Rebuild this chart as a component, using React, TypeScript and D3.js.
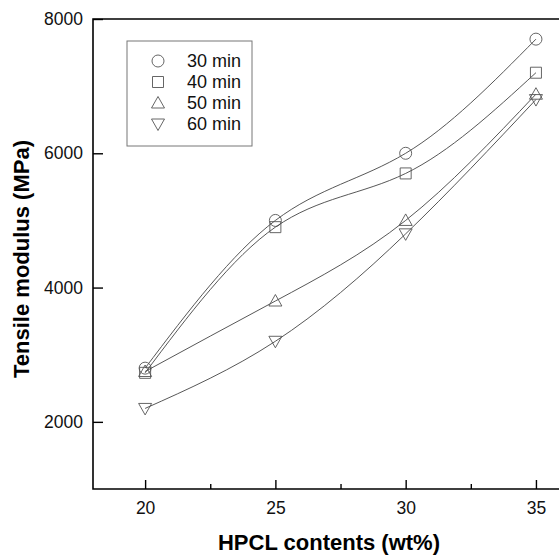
import * as d3 from 'd3';
import { useEffect, useRef } from 'react';

const contents = [20, 25, 30, 35];
const min30 = [2800, 5000, 6000, 7700];
const min40 = [2730, 4900, 5700, 7200];
const min50 = [2750, 3800, 5000, 6880];
const min60 = [2200, 3200, 4800, 6800];
const seriesNames = ['30 min', '40 min', '50 min', '60 min'];
const seriesShapes = ['circle', 'square', 'up', 'down'];
const xTicks = [20, 25, 30, 35];
const xMinorTicks = [22.5, 27.5, 32.5];
const yTicks = [2000, 4000, 6000, 8000];

const W = 559;
const H = 556;

const markerPath = (shape: string) => {
    if (shape === 'circle') return 'M6,0A6,6 0 1,1 -6,0A6,6 0 1,1 6,0Z';
    if (shape === 'square') return 'M-5.5,-5.5H5.5V5.5H-5.5Z';
    if (shape === 'up') return 'M0,-6.5L6.5,5L-6.5,5Z';
    return 'M0,6.5L6.5,-5L-6.5,-5Z';
};

const App = () => {
    const svgRef = useRef<SVGSVGElement>(null);

    useEffect(() => {
        const svg = d3.select(svgRef.current);
        const x = d3.scaleLinear().domain([18, 36]).range([93, 562]);
        const y = d3.scaleLinear().domain([1000, 8000]).range([489, 19]);
        const series = [min30, min40, min50, min60];

        // frame (right side runs off the picture)
        svg.append('path')
            .attr('d', `M${x(36) + 10},${y(8000)}H${x(18)}V${y(1000)}H${x(36) + 10}`)
            .attr('fill', 'none')
            .attr('stroke', '#000')
            .attr('stroke-width', 1.6);

        const xAxis = svg.append('g')
            .attr('transform', `translate(0,${y(1000)})`)
            .call(d3.axisBottom(x).tickValues(xTicks).tickSizeInner(-9).tickSizeOuter(0).tickPadding(13).tickFormat(d3.format('d')));
        svg.append('g')
            .attr('transform', `translate(0,${y(1000)})`)
            .call(d3.axisBottom(x).tickValues(xMinorTicks).tickSizeInner(-5).tickSizeOuter(0).tickFormat(() => ''));

        svg.append('g')
            .attr('transform', `translate(${x(18)},0)`)
            .call(d3.axisLeft(y).tickValues(yTicks).tickSizeInner(-10).tickSizeOuter(0).tickPadding(10).tickFormat(d3.format('d')));

        svg.selectAll('.domain').remove();
        svg.selectAll('.tick line').attr('stroke', '#000').attr('stroke-width', 1.4);
        svg.selectAll('.tick text')
            .attr('font-family', 'Liberation Sans, Arial, sans-serif')
            .attr('font-size', 17.5)
            .attr('fill', '#111');
        xAxis.selectAll('text').attr('dy', '0.71em');

        const line = d3.line<number>()
            .x((d, i) => x(contents[i]))
            .y(d => y(d))
            .curve(d3.curveNatural);

        series.forEach((s, k) => {
            svg.append('path')
                .attr('d', line(s))
                .attr('fill', 'none')
                .attr('stroke', '#444')
                .attr('stroke-width', 0.9);
            svg.selectAll(`.m${k}`)
                .data(s)
                .enter()
                .append('path')
                .attr('class', `m${k}`)
                .attr('transform', (d, i) => `translate(${x(contents[i])},${y(d)})`)
                .attr('d', markerPath(seriesShapes[k]))
                .attr('fill', 'none')
                .attr('stroke', '#555')
                .attr('stroke-width', 0.9);
        });

        // legend
        const legend = svg.append('g');
        legend.append('rect')
            .attr('x', 127).attr('y', 41).attr('width', 125).attr('height', 105)
            .attr('fill', 'none').attr('stroke', '#777').attr('stroke-width', 1);
        seriesNames.forEach((name, k) => {
            const cy = 61 + k * 21;
            legend.append('path')
                .attr('transform', `translate(158,${cy})`)
                .attr('d', markerPath(seriesShapes[k]))
                .attr('fill', 'none')
                .attr('stroke', '#555')
                .attr('stroke-width', 0.9);
            legend.append('text')
                .attr('x', 187).attr('y', cy).attr('dy', '0.35em')
                .attr('font-family', 'Liberation Sans, Arial, sans-serif')
                .attr('font-size', 18)
                .attr('fill', '#111')
                .text(name);
        });

        svg.append('text')
            .attr('x', 329).attr('y', 550)
            .attr('text-anchor', 'middle')
            .attr('font-family', 'Liberation Sans, Arial, sans-serif')
            .attr('font-weight', 'bold')
            .attr('font-size', 22)
            .text('HPCL contents (wt%)');

        svg.append('text')
            .attr('transform', 'translate(29,259) rotate(-90)')
            .attr('text-anchor', 'middle')
            .attr('font-family', 'Liberation Sans, Arial, sans-serif')
            .attr('font-weight', 'bold')
            .attr('font-size', 22)
            .text('Tensile modulus (MPa)');

        return () => {
            svg.selectAll('*').remove();
        };
    }, []);

    return (
        <svg ref={svgRef} width={W} height={H}
            style={{ position: 'absolute', left: 0, top: 0, background: '#fff' }}></svg>
    );
};

export default App;
